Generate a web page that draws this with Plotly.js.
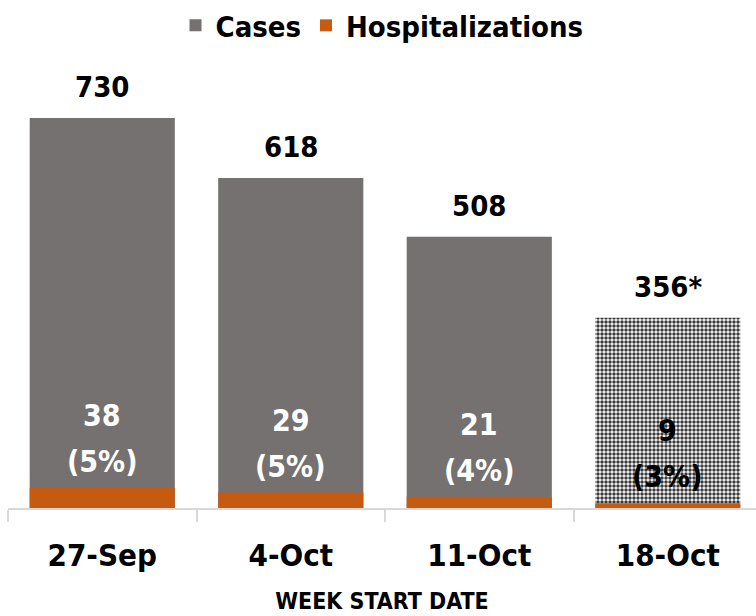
<!DOCTYPE html>
<html>
<head>
<meta charset="utf-8">
<script src="https://cdn.plot.ly/plotly-3.0.1.min.js"></script>
<style>
  html, body { margin: 0; padding: 0; background: #fff; }
  #chart { width: 756px; height: 616px; }
</style>
</head>
<body>
<div id="chart"></div>
<script>
var weeks = ['27-Sep', '4-Oct', '11-Oct', '18-Oct'];
var cases = [730, 618, 508, 356];
var hospitalizations = [38, 29, 21, 9];
var caseLabels = ['730', '618', '508', '356*'];
var pctLabels = ['(5%)', '(5%)', '(4%)', '(3%)'];

var FONT = '"DejaVu Sans Condensed", "DejaVu Sans", sans-serif';
var GREY = '#767171';
var ORANGE = '#c55a11';

var casesTrace = {
    x: weeks,
    y: cases,
    type: 'bar',
    name: 'Cases',
    width: 0.77,
    hoverinfo: 'none',
    marker: {
        color: GREY,
        pattern: {
            shape: ['', '', '', '.'],
            fgcolor: '#3a3a3a',
            bgcolor: '#ffffff',
            fillmode: 'replace',
            size: 4,
            solidity: 0.6
        }
    }
};

var hospTrace = {
    x: weeks,
    y: hospitalizations,
    type: 'bar',
    name: 'Hospitalizations',
    width: 0.77,
    hoverinfo: 'none',
    marker: { color: ORANGE }
};

var annotations = [];
weeks.forEach(function (w, i) {
    var inner = i === 3 ? '#000000' : '#ffffff';
    // total on top of the bar
    annotations.push({
        x: w, y: cases[i], text: caseLabels[i],
        showarrow: false, yanchor: 'bottom', yshift: 12,
        font: { family: FONT, size: 29, weight: 700, color: '#000000' }
    });
    // hospitalizations count + share
    annotations.push({
        x: w, y: hospitalizations[i], text: pctLabels[i],
        showarrow: false, yanchor: 'bottom', yshift: 7,
        font: { family: FONT, size: 30, weight: 700, color: inner }
    });
    annotations.push({
        x: w, y: hospitalizations[i], text: String(hospitalizations[i]),
        showarrow: false, yanchor: 'bottom', yshift: 53,
        font: { family: FONT, size: 30, weight: 700, color: inner }
    });
});

var layout = {
    width: 756,
    height: 616,
    margin: { l: 8, r: 0, t: 0, b: 108 },
    barmode: 'overlay',
    paper_bgcolor: '#ffffff',
    plot_bgcolor: '#ffffff',
    font: { family: FONT, color: '#000000' },
    showlegend: true,
    legend: {
        orientation: 'h',
        x: 0.5, xanchor: 'center',
        y: 1, yanchor: 'top',
        font: { family: FONT, size: 29, weight: 700, color: '#000000' },
        itemwidth: 30
    },
    xaxis: {
        type: 'category',
        range: [-0.5, 3.468],
        automargin: false,
        showline: true,
        linecolor: '#d9d9d9',
        linewidth: 2,
        ticks: 'outside',
        tickson: 'boundaries',
        ticklen: 12,
        tickwidth: 2,
        tickcolor: '#d9d9d9',
        ticklabelstandoff: 19,
        showgrid: false,
        tickfont: { family: FONT, size: 31, weight: 700, color: '#000000' },
        title: {
            text: 'WEEK START DATE',
            standoff: 21,
            font: { family: FONT, size: 23, weight: 700, color: '#000000' }
        }
    },
    yaxis: {
        visible: false,
        range: [0, 951],
        showgrid: false,
        zeroline: false
    },
    annotations: annotations
};

Plotly.newPlot('chart', [casesTrace, hospTrace], layout, { displayModeBar: false, staticPlot: true });
</script>
</body>
</html>
